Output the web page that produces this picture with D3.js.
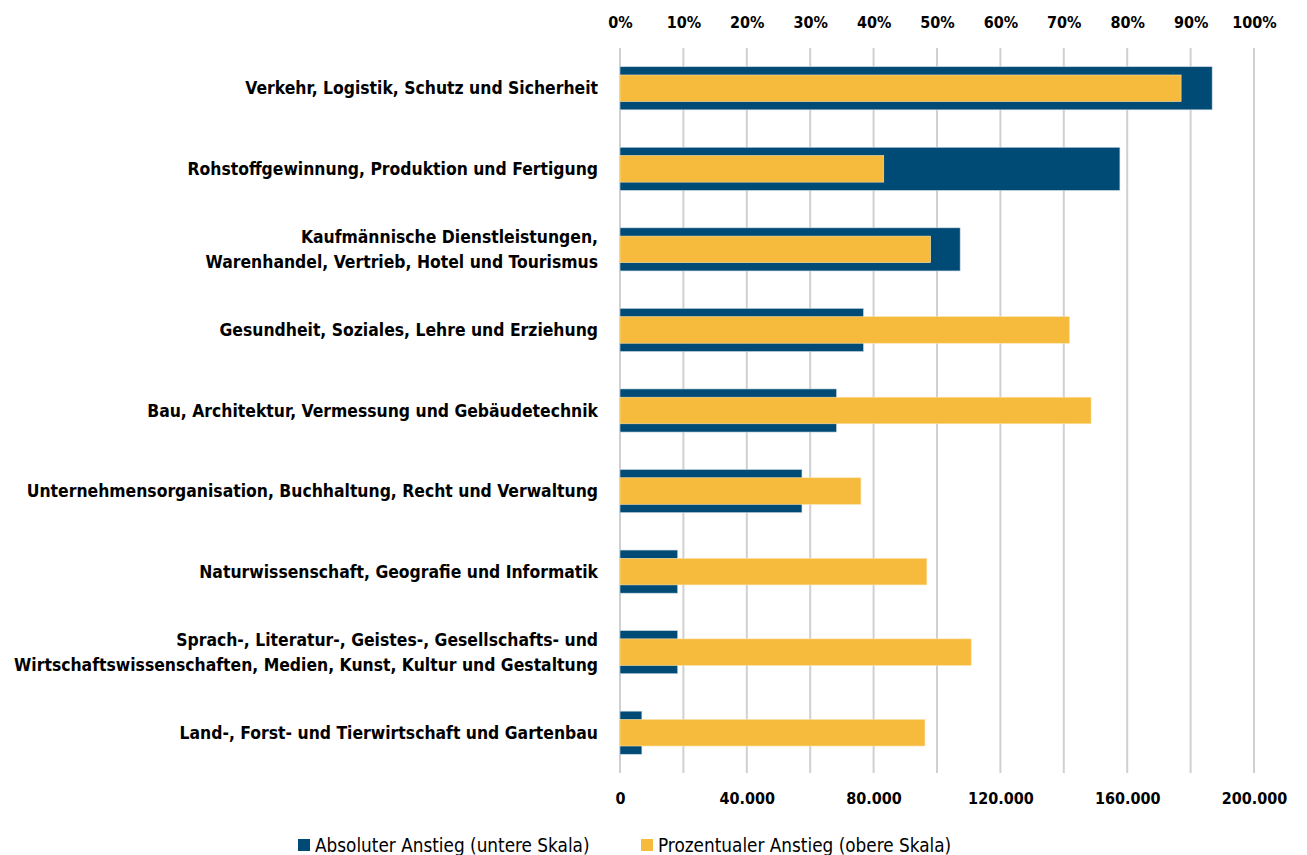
<!DOCTYPE html>
<html>
<head>
<meta charset="utf-8">
<script src="https://cdn.jsdelivr.net/npm/d3@7"></script>
<style>
  body { margin: 0; background: #fff; }
  svg { display: block; font-family: "DejaVu Sans Condensed", "Liberation Sans Narrow", sans-serif; }
</style>
</head>
<body>
<svg id="chart" width="1307" height="855"></svg>
<script>
// Categories (top to bottom), line breaks with "|"
const categories = [
  "Verkehr, Logistik, Schutz und Sicherheit",
  "Rohstoffgewinnung, Produktion und Fertigung",
  "Kaufmännische Dienstleistungen,|Warenhandel, Vertrieb, Hotel und Tourismus",
  "Gesundheit, Soziales, Lehre und Erziehung",
  "Bau, Architektur, Vermessung und Gebäudetechnik",
  "Unternehmensorganisation, Buchhaltung, Recht und Verwaltung",
  "Naturwissenschaft, Geografie und Informatik",
  "Sprach-, Literatur-, Geistes-, Gesellschafts- und|Wirtschaftswissenschaften, Medien, Kunst, Kultur und Gestaltung",
  "Land-, Forst- und Tierwirtschaft und Gartenbau"
];
// Absolute increase (bottom scale)
const absoluteValues = [186800, 157700, 107300, 76800, 68300, 57400, 18200, 18200, 6900];
// Percentage increase (top scale)
const percentValues = [88.5, 41.6, 49.0, 70.9, 74.3, 38.0, 48.4, 55.4, 48.1];

const bottomTicks = [0, 40000, 80000, 120000, 160000, 200000];
const topTicks = [0, 10, 20, 30, 40, 50, 60, 70, 80, 90, 100];
const gridTicks = d3.range(0, 200001, 20000);

const seriesNames = ["Absoluter Anstieg (untere Skala)", "Prozentualer Anstieg (obere Skala)"];
const navy = "#004b76", yellow = "#f6bb3c";

const svg = d3.select("#chart");
const plotLeft = 620, plotRight = 1254, plotTop = 48, plotBottom = 773;

const xAbs = d3.scaleLinear().domain([0, 200000]).range([plotLeft, plotRight]);
const xPct = d3.scaleLinear().domain([0, 100]).range([plotLeft, plotRight]);
const y = d3.scaleBand().domain(categories).range([plotTop, plotBottom]);

// Gridlines
svg.append("g")
  .selectAll("line")
  .data(gridTicks)
  .join("line")
  .attr("x1", d => xAbs(d)).attr("x2", d => xAbs(d))
  .attr("y1", plotTop).attr("y2", plotBottom)
  .attr("stroke", "#d0d0d0")
  .attr("stroke-width", 2);

// Absolute bars (wide)
const navyH = y.bandwidth() * 0.535;
svg.append("g")
  .selectAll("rect")
  .data(categories)
  .join("rect")
  .attr("x", plotLeft)
  .attr("y", d => y(d) + y.bandwidth() / 2 - navyH / 2)
  .attr("width", (d, i) => xAbs(absoluteValues[i]) - plotLeft)
  .attr("height", navyH)
  .attr("fill", navy)
  .attr("stroke", "#c8d6e0")
  .attr("stroke-width", 0.6);

// Percentage bars (narrow)
const yelH = y.bandwidth() * 0.33;
svg.append("g")
  .selectAll("rect")
  .data(categories)
  .join("rect")
  .attr("x", plotLeft)
  .attr("y", d => y(d) + y.bandwidth() / 2 - yelH / 2)
  .attr("width", (d, i) => xPct(percentValues[i]) - plotLeft)
  .attr("height", yelH)
  .attr("fill", yellow)
  .attr("stroke", "#fbe3b0")
  .attr("stroke-width", 0.6);

// Top axis
const topAxis = svg.append("g")
  .attr("transform", `translate(0,${plotTop})`)
  .call(d3.axisTop(xPct).tickValues(topTicks).tickFormat(d => d + "%").tickSize(0).tickPadding(20));
topAxis.select(".domain").remove();
topAxis.selectAll("text")
  .attr("font-family", "DejaVu Sans Condensed, sans-serif")
  .attr("font-size", 16).attr("font-weight", "bold").attr("fill", "#000");

// Bottom axis
const bottomAxis = svg.append("g")
  .attr("transform", `translate(0,${plotBottom})`)
  .call(d3.axisBottom(xAbs).tickValues(bottomTicks)
    .tickFormat(d => d3.format(",")(d).replace(/,/g, ".")).tickSize(0).tickPadding(20));
bottomAxis.select(".domain").remove();
bottomAxis.selectAll("text")
  .attr("font-family", "DejaVu Sans Condensed, sans-serif")
  .attr("font-size", 16).attr("font-weight", "bold").attr("fill", "#000");

// Category labels
const labels = svg.append("g")
  .selectAll("text")
  .data(categories)
  .join("text")
  .attr("x", 598)
  .attr("text-anchor", "end")
  .attr("font-size", 17.4)
  .attr("font-weight", "bold")
  .attr("fill", "#000");
labels.each(function(d) {
  const lines = d.split("|");
  const cy = y(d) + y.bandwidth() / 2;
  const lh = 25;
  const t = d3.select(this);
  lines.forEach((ln, k) => {
    t.append("tspan")
      .attr("x", 598)
      .attr("y", cy + (k - (lines.length - 1) / 2) * lh)
      .attr("dy", "0.35em")
      .text(ln);
  });
});

// Legend
const legendItems = [
  { name: seriesNames[0], color: navy, x: 298 },
  { name: seriesNames[1], color: yellow, x: 641 }
];
const legend = svg.append("g")
  .selectAll("g")
  .data(legendItems)
  .join("g")
  .attr("transform", d => `translate(${d.x},845)`);
legend.append("rect")
  .attr("x", 0).attr("y", -6).attr("width", 12).attr("height", 12)
  .attr("fill", d => d.color);
legend.append("text")
  .attr("x", 17).attr("dy", "0.35em")
  .attr("font-size", 18.8).attr("fill", "#000")
  .text(d => d.name);
</script>
</body>
</html>
